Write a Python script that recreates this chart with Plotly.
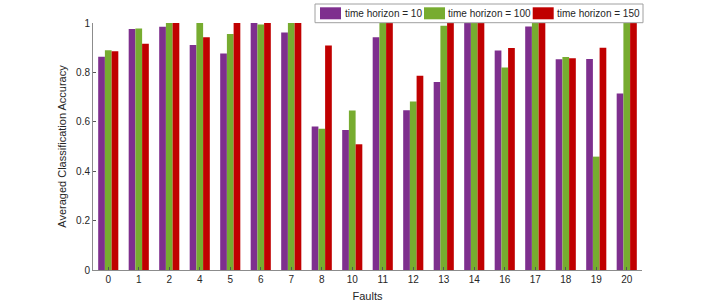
import plotly.graph_objects as go

faults = ["0", "1", "2", "4", "5", "6", "7", "8", "10", "11", "12", "13", "14", "16", "17", "18", "19", "20"]
h10 = [0.863, 0.976, 0.985, 0.911, 0.877, 1.0, 0.962, 0.581, 0.567, 0.942, 0.647, 0.761, 1.0, 0.889, 0.986, 0.853, 0.854, 0.715]
h100 = [0.890, 0.978, 1.0, 1.0, 0.955, 0.994, 1.0, 0.572, 0.646, 1.0, 0.682, 0.989, 1.0, 0.820, 1.0, 0.862, 0.459, 1.0]
h150 = [0.886, 0.916, 1.0, 0.942, 1.0, 1.0, 1.0, 0.909, 0.509, 1.0, 0.786, 1.0, 1.0, 0.899, 1.0, 0.857, 0.900, 1.0]

series_names = ["time horizon = 10", "time horizon = 100", "time horizon = 150"]
series_vals = [h10, h100, h150]
series_cols = ["#7E2F8E", "#77AC30", "#C00000"]

W, H = 709, 304
L, R, T, B = 93, 67, 23, 34
PW, PH = W - L - R, H - T - B


def px_x(px):
    return (px - L) / PW


def px_y(py):
    return (H - B - py) / PH


fig = go.Figure()
for name, vals, col in zip(series_names, series_vals, series_cols):
    fig.add_trace(go.Bar(x=faults, y=vals, name=name, marker=dict(color=col, line=dict(width=0))))

FAM = "Liberation Sans, Arial, sans-serif"
axis_col = "#8c8c8c"

shapes = []
annotations = []
# manual legend box (MATLAB style)
shapes.append(dict(type="rect", xref="paper", yref="paper",
                   x0=px_x(315), x1=px_x(643), y0=px_y(22.7), y1=px_y(4),
                   fillcolor="white", line=dict(color="#a0a0a0", width=1), layer="above"))
sw_x = [320, 424, 532.7]
sw_w = 21
txt_x = [342.5, 445.5, 555]
for i, (name, col) in enumerate(zip(series_names, series_cols)):
    shapes.append(dict(type="rect", xref="paper", yref="paper",
                       x0=px_x(sw_x[i]), x1=px_x(sw_x[i] + sw_w), y0=px_y(19.3), y1=px_y(7.3),
                       fillcolor=col, line=dict(width=0), layer="above"))
    annotations.append(dict(xref="paper", yref="paper", x=px_x(txt_x[i]), y=px_y(13.5),
                            xanchor="left", yanchor="middle", showarrow=False, text=name,
                            font=dict(family=FAM, size=10, color="#262626")))

fig.update_layout(
    width=W, height=H,
    margin=dict(l=L, r=R, t=T, b=B, autoexpand=False),
    plot_bgcolor="white", paper_bgcolor="white",
    barmode="group", bargap=0.34, bargroupgap=0,
    font=dict(family=FAM, size=10, color="#262626"),
    showlegend=False,
    hovermode=False,
    shapes=shapes,
    annotations=annotations,
    xaxis=dict(
        type="category", range=[-0.5, 17.5], showline=True, linecolor=axis_col, linewidth=1,
        ticks="inside", ticklen=3, tickcolor="#555555", showgrid=False, automargin=False,
        title=dict(text="Faults", standoff=8, font=dict(size=11)), zeroline=False,
        tickfont=dict(size=10),
    ),
    yaxis=dict(
        range=[0, 1], tickvals=[0, 0.2, 0.4, 0.6, 0.8, 1], ticktext=["0", "0.2", "0.4", "0.6", "0.8", "1"],
        showline=True, linecolor=axis_col, linewidth=1, ticks="inside", ticklen=3, automargin=False,
        tickcolor="#555555", showgrid=False, zeroline=False, tickfont=dict(size=10),
        title=dict(text="Averaged Classification Accuracy", standoff=7, font=dict(size=11)),
    ),
)

fig.write_html("out.html", config={"displayModeBar": False, "staticPlot": True},
               post_script="document.body.style.margin='0';document.body.style.overflow='hidden';")
